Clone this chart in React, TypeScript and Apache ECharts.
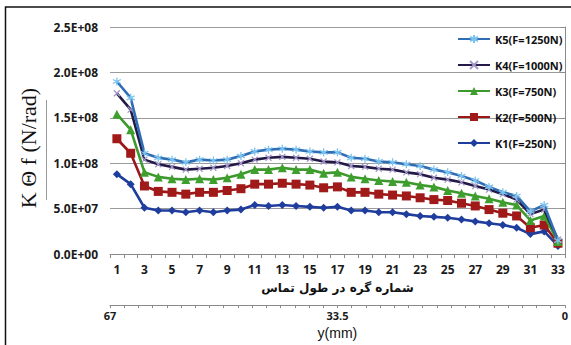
import React, { useEffect, useRef } from "react";
import * as echarts from "echarts";

const nodes = ["1","2","3","4","5","6","7","8","9","10","11","12","13","14","15","16","17","18","19","20","21","22","23","24","25","26","27","28","29","30","31","32","33"];

const k1 = [8.8e7,7.7e7,5.1e7,4.8e7,4.8e7,4.6e7,4.8e7,4.6e7,4.8e7,4.9e7,5.4e7,5.3e7,5.4e7,5.3e7,5.2e7,5.1e7,5.2e7,4.8e7,4.8e7,4.6e7,4.6e7,4.4e7,4.2e7,4.1e7,4.0e7,3.8e7,3.6e7,3.4e7,3.2e7,2.9e7,2.2e7,2.5e7,0.9e7];
const k2 = [12.7e7,11.1e7,7.5e7,6.9e7,6.8e7,6.6e7,6.8e7,6.8e7,7.0e7,7.2e7,7.7e7,7.7e7,7.8e7,7.7e7,7.6e7,7.3e7,7.4e7,6.8e7,6.8e7,6.6e7,6.5e7,6.4e7,6.2e7,6.0e7,5.9e7,5.6e7,5.3e7,4.9e7,4.5e7,4.2e7,2.9e7,3.2e7,1.2e7];
const k3 = [15.4e7,13.7e7,9.0e7,8.5e7,8.3e7,8.2e7,8.3e7,8.2e7,8.4e7,8.8e7,9.3e7,9.3e7,9.5e7,9.3e7,9.3e7,8.9e7,9.0e7,8.5e7,8.3e7,8.1e7,8.0e7,7.9e7,7.6e7,7.4e7,7.0e7,6.7e7,6.4e7,6.1e7,5.7e7,5.4e7,3.7e7,4.2e7,1.4e7];
const k4 = [17.7e7,15.9e7,10.4e7,9.9e7,9.6e7,9.3e7,9.4e7,9.5e7,9.7e7,10.0e7,10.4e7,10.6e7,10.7e7,10.6e7,10.5e7,10.2e7,10.1e7,9.7e7,9.6e7,9.4e7,9.3e7,9.0e7,8.8e7,8.4e7,8.2e7,7.9e7,7.5e7,7.1e7,6.6e7,6.0e7,4.4e7,4.9e7,1.6e7];
const k5 = [19.0e7,17.2e7,11.1e7,10.6e7,10.4e7,10.1e7,10.4e7,10.3e7,10.4e7,10.8e7,11.3e7,11.5e7,11.6e7,11.5e7,11.3e7,11.2e7,11.2e7,10.6e7,10.5e7,10.2e7,10.1e7,9.9e7,9.7e7,9.3e7,9.0e7,8.6e7,8.1e7,7.4e7,6.8e7,6.4e7,4.7e7,5.4e7,1.5e7];

const seriesNames = ["K1(F=250N)", "K2(F=500N)", "K3(F=750N)", "K4(F=1000N)", "K5(F=1250N)"];
const legendOrder = ["K5(F=1250N)", "K4(F=1000N)", "K3(F=750N)", "K2(F=500N)", "K1(F=250N)"];
const yTickLabels = ["0.0E+00", "5.0E+07", "1.0E+08", "1.5E+08", "2.0E+08", "2.5E+08"];
const yMin = 0;
const yMax = 2.5e8;
const yStep = 5e7;
const mmMin = 0;
const mmMax = 67;
const mmStep = 33.5;
const xTitle = "شماره گره در طول تماس";
const x2Title = "y(mm)";
const yTitle = "K Θ f (N/rad)";

const ASTERISK = "path://M5,0L5,10M0.67,2.5L9.33,7.5M0.67,7.5L9.33,2.5";
const CROSS = "path://M0,0L10,10M0,10L10,0";

export default function App() {
  const ref = useRef<HTMLDivElement>(null);
  useEffect(() => {
    if (!ref.current) return;
    const chart = echarts.init(ref.current, null, { renderer: "svg" });
    const labelFont = { fontFamily: "Open Sans", fontWeight: "bold" as const, fontSize: 12, color: "#1a1a1a" };
    const axisGray = "#8a8a8a";
    const styles = [
      { line: "#1f3d9c", marker: "#1f3d9c", symbol: "diamond", size: 8, stroke: false },
      { line: "#9c1717", marker: "#a01a1a", symbol: "rect", size: 9, stroke: false },
      { line: "#3b9a2b", marker: "#3f9f2e", symbol: "triangle", size: 9, stroke: false },
      { line: "#231a48", marker: "#a398c8", symbol: CROSS, size: 6, stroke: true },
      { line: "#2f6db5", marker: "#7cc3ee", symbol: ASTERISK, size: 8, stroke: true },
    ];
    const datas = [k1, k2, k3, k4, k5];
    chart.setOption({
      animation: false,
      backgroundColor: "#ffffff",
      grid: { left: 110, right: 3, top: 27, bottom: 90, containLabel: false },
      legend: {
        orient: "vertical",
        left: 452,
        top: 26,
        itemWidth: 32,
        itemHeight: 10,
        itemGap: 10,
        data: legendOrder,
        textStyle: { fontFamily: "Open Sans", fontWeight: "bold", fontSize: 11, color: "#111", lineHeight: 16 },
      },
      xAxis: [
        {
          type: "category",
          data: nodes,
          boundaryGap: true,
          axisLine: { show: true, lineStyle: { color: axisGray, width: 1 } },
          axisTick: { show: true, interval: 0, length: 4, lineStyle: { color: axisGray } },
          axisLabel: { ...labelFont, interval: 1, margin: 9 },
          splitLine: { show: false },
          name: xTitle,
          nameLocation: "middle",
          nameGap: 28,
          nameTextStyle: { fontFamily: "DejaVu Sans", fontWeight: "bold", fontSize: 12, color: "#111" },
        },
        {
          type: "value",
          position: "bottom",
          offset: 51,
          min: mmMin,
          max: mmMax,
          interval: mmStep,
          inverse: true,
          axisLine: { show: true, lineStyle: { color: axisGray, width: 1 } },
          axisTick: { show: true, length: 3, lineStyle: { color: axisGray } },
          minorTick: { show: true, splitNumber: 16, length: 3, lineStyle: { color: axisGray } },
          axisLabel: { ...labelFont, fontSize: 11, margin: 5 },
          splitLine: { show: false },
          minorSplitLine: { show: false },
          name: x2Title,
          nameLocation: "middle",
          nameGap: 19,
          nameTextStyle: { fontFamily: "Liberation Sans", fontSize: 14, color: "#111" },
        },
      ],
      yAxis: {
        type: "value",
        min: yMin,
        max: yMax,
        interval: yStep,
        axisLine: { show: true, lineStyle: { color: axisGray, width: 1 } },
        axisTick: { show: true, length: 4, lineStyle: { color: axisGray } },
        axisLabel: {
          ...labelFont,
          margin: 12,
          formatter: (v: number) => yTickLabels[Math.round((v - yMin) / yStep)] ?? "",
        },
        splitLine: { show: true, lineStyle: { color: "#9a9a9a", width: 1 } },
      },
      series: datas.map((d, i) => ({
        name: seriesNames[i],
        type: "line",
        xAxisIndex: 0,
        data: d,
        symbol: styles[i].symbol,
        symbolSize: styles[i].size,
        showSymbol: true,
        lineStyle: { color: styles[i].line, width: 2.6 },
        itemStyle: styles[i].stroke
          ? { color: "rgba(0,0,0,0)", borderColor: styles[i].marker, borderWidth: 1.3 }
          : { color: styles[i].marker, borderWidth: 0 },
        emphasis: { disabled: true },
        z: 2 + i,
      })),
      graphic: [
        {
          type: "rect",
          shape: { x: 5.5, y: 7, width: 700, height: 500 },
          style: { fill: "none", stroke: "#111", lineWidth: 1.5 },
          silent: true,
        },
        {
          type: "line",
          shape: { x1: 46.5, y1: 100, x2: 46.5, y2: 200 },
          style: { stroke: "#9a9a9a", lineWidth: 1 },
          silent: true,
        },
        {
          type: "text",
          x: 28,
          y: 148,
          rotation: Math.PI / 2,
          style: {
            text: yTitle,
            font: "22px 'Liberation Serif'",
            fill: "#111",
            align: "center",
            verticalAlign: "middle",
          },
          silent: true,
        },
      ],
    });
    return () => chart.dispose();
  }, []);
  return (
    <div
      ref={ref}
      style={{ position: "absolute", left: 0, top: 0, width: 571, height: 345 }}
    />
  );
}
